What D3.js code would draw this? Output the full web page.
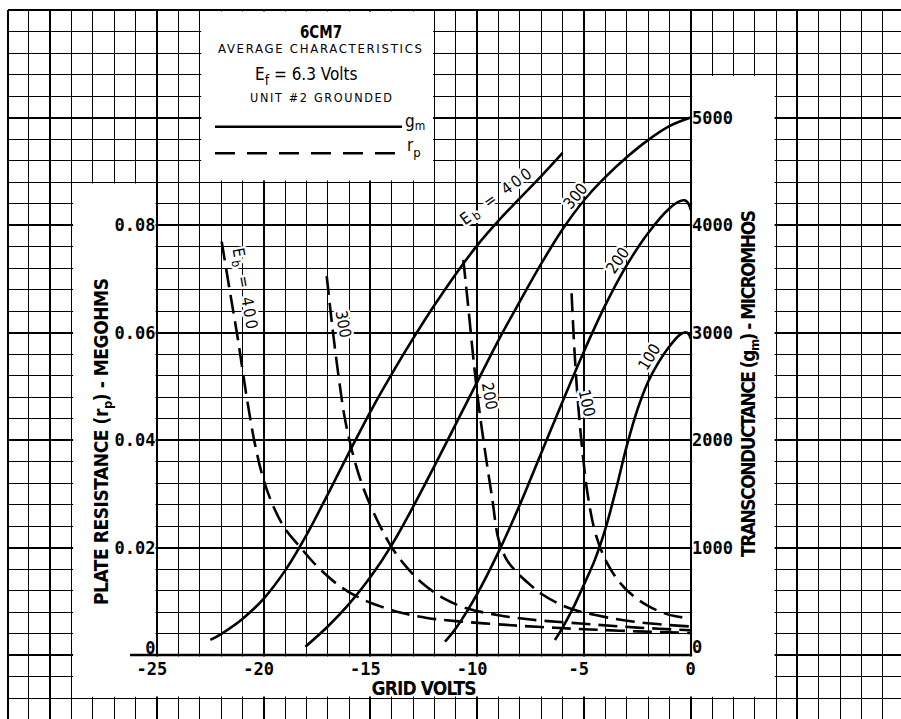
<!DOCTYPE html>
<html><head><meta charset="utf-8">
<script src="https://cdn.jsdelivr.net/npm/d3@7"></script>
<style>body{margin:0;background:#fff}svg{display:block}</style>
</head><body>
<svg id="c" width="901" height="719"></svg>
<script>
// ---------- data ----------
const xTicks = [-25, -20, -15, -10, -5, 0];
const xTickLabels = ["-25", "-20", "-15", "-10", "-5", "0"];
const rpTicks = [0, 0.02, 0.04, 0.06, 0.08];
const rpTickLabels = ["0", "0.02", "0.04", "0.06", "0.08"];
const gmTicks = [0, 1000, 2000, 3000, 4000, 5000];
const gmTickLabels = ["0", "1000", "2000", "3000", "4000", "5000"];

// transconductance (micromhos) vs grid volts, Eb = 400, 300, 200, 100
const gm400 = [[-22.5,140],[-22,195],[-21,335],[-20,525],[-19,785],[-18,1115],[-17,1495],[-16,1885],[-15,2265],[-14,2615],[-13,2945],[-12,3255],[-11,3545],[-10,3810],[-9,4040],[-8,4250],[-7,4455],[-6,4670]];
const gm300 = [[-18.05,77],[-17,265],[-16,475],[-15,725],[-14,1025],[-13,1380],[-12,1760],[-11,2150],[-10,2540],[-9,2930],[-8,3290],[-7,3640],[-6,3960],[-5,4230],[-4,4445],[-3,4630],[-2,4790],[-1,4920],[0,5000]];
const gm200 = [[-11.51,124],[-11,249],[-10,569],[-9,959],[-8,1399],[-7,1879],[-6,2359],[-5,2824],[-4,3254],[-3,3624],[-2,3924],[-1,4154],[-0.5,4222],[-0.25,4228],[-0.08,4190],[0,4140]];
const gm100 = [[-6.36,140],[-6,255],[-5.5,440],[-5,655],[-4.5,880],[-4,1170],[-3.5,1540],[-3,1940],[-2.5,2280],[-2,2540],[-1.5,2725],[-1,2870],[-0.5,2980],[-0.25,3003],[-0.1,2988],[0,2940]];

// plate resistance (megohms) vs grid volts
const rp400 = [[-21.97,0.0769],[-21.6,0.068],[-21.2,0.0585],[-20.8,0.048],[-20.4,0.039],[-20,0.0325],[-19.5,0.0272],[-19,0.0235],[-18.3,0.0201],[-17.5,0.0165],[-16.5,0.013],[-15.5,0.0106],[-14.5,0.009],[-13.5,0.0078],[-12.35,0.0069],[-11,0.0063],[-9,0.0057],[-7,0.0052],[-5,0.0048],[-2.5,0.0044],[0,0.0041]];
const rp300 = [[-17.05,0.0705],[-16.8,0.0615],[-16.5,0.052],[-16.2,0.044],[-15.8,0.037],[-15.4,0.0318],[-15,0.0278],[-14.5,0.0236],[-14,0.02],[-13.3,0.0163],[-12.5,0.0131],[-11.5,0.0104],[-10.5,0.0087],[-9,0.0074],[-7.5,0.0066],[-5,0.0058],[-2.5,0.0051],[0,0.0046]];
const rp200 = [[-10.65,0.0735],[-10.4,0.064],[-10.15,0.054],[-9.9,0.0455],[-9.6,0.037],[-9.3,0.0292],[-9,0.0215],[-8.6,0.0176],[-8.1,0.0152],[-7.5,0.013],[-7,0.0114],[-6,0.0092],[-5,0.0079],[-3.5,0.0067],[-2,0.0059],[0,0.0053]];
const rp100 = [[-5.58,0.0673],[-5.45,0.057],[-5.3,0.048],[-5.1,0.039],[-4.85,0.0305],[-4.55,0.024],[-4.25,0.0201],[-3.9,0.017],[-3.5,0.0144],[-3,0.0121],[-2.2,0.0096],[-1.4,0.008],[-0.7,0.0072],[0,0.0068]];

// ---------- scales ----------
const svg = d3.select("#c");
const x = d3.scaleLinear().domain([-25, 0]).range([157, 690.7]);
const yR = d3.scaleLinear().domain([0, 0.1]).range([655, 117.5]);
const yG = d3.scaleLinear().domain([0, 5000]).range([655, 117.5]);

// ---------- graph paper ----------
const grid = svg.append("g").attr("shape-rendering", "crispEdges");
const vLines = d3.range(-32, 10);
grid.selectAll("line.v").data(vLines).join("line")
  .attr("x1", d => x(d)).attr("x2", d => x(d))
  .attr("y1", yR(0.12)).attr("y2", 719)
  .attr("stroke", "#000")
  .attr("stroke-width", d => (d % 5 === 0 || d === -32) ? 2 : 1);
const hLines = d3.range(-3, 31);
grid.selectAll("line.h").data(hLines).join("line")
  .attr("y1", d => yR(d * 0.004)).attr("y2", d => yR(d * 0.004))
  .attr("x1", x(-32)).attr("x2", 901)
  .attr("stroke", "#000")
  .attr("stroke-width", d => (d % 5 === 0) ? 2 : 1);

// white panels (their edges stay as grid lines)
function panel(v0, v1, r0, r1) {
  const inset = 1.5;
  svg.append("rect")
    .attr("x", x(v0) + inset).attr("y", yR(r1) + inset)
    .attr("width", x(v1) - x(v0) - 2 * inset)
    .attr("height", yR(r0) - yR(r1) - 2 * inset)
    .attr("fill", "#fff");
}
panel(-29, -25, -0.008, 0.088);   // left label panel
panel(0, 4, -0.008, 0.108);       // right label panel
panel(-23, -12, 0.088, 0.12);     // title box
panel(-29, 4, -0.008, 0);         // bottom strip

// axis base line
svg.append("line").attr("x1", 130).attr("x2", x(0)).attr("y1", yR(0)).attr("y2", yR(0))
  .attr("stroke", "#000").attr("stroke-width", 2.5);

// ---------- curves ----------
const curves = svg.append("g").attr("fill", "none").attr("stroke", "#000");
const lineG = d3.line().x(d => x(d[0])).y(d => yG(d[1])).curve(d3.curveCatmullRom.alpha(0.5));
const lineR = d3.line().x(d => x(d[0])).y(d => yR(d[1])).curve(d3.curveCatmullRom.alpha(0.5));
[gm400, gm300, gm200, gm100].forEach(s => {
  curves.append("path").attr("d", lineG(s)).attr("stroke-width", 2.6);
});
[rp400, rp300, rp200, rp100].forEach(s => {
  curves.append("path").attr("d", lineR(s)).attr("stroke-width", 2.6)
    .attr("stroke-dasharray", "19,8");
});

// ---------- curve labels ----------
const lblFont = "'DejaVu Sans Condensed','DejaVu Sans',sans-serif";
function curveLabel(v, yval, ys, angle, parts, len) {
  const t = svg.append("text")
    .attr("transform", `translate(${x(v)},${ys(yval)}) rotate(${angle})`)
    .attr("text-anchor", "middle").attr("dominant-baseline", "central")
    .attr("font-family", lblFont).attr("font-size", 16)
    .attr("fill", "#000").attr("stroke", "#fff").attr("stroke-width", 5)
    .attr("paint-order", "stroke").attr("stroke-linejoin", "round");
  parts.forEach(p => {
    const ts = t.append("tspan").text(p.t);
    if (p.sub) ts.attr("font-size", 12).attr("dy", 5);
    if (p.up) ts.attr("dy", -5);
  });
  if (len) t.attr("textLength", len).attr("lengthAdjust", "spacing");
}
const ebParts = [{t: "E"}, {t: "b", sub: true}, {t: " = 400", up: true}];
curveLabel(-9.15, 4270, yG, -36, ebParts, 84);
curveLabel(-5.42, 4272, yG, -50, [{t: "300"}]);
curveLabel(-3.44, 3674, yG, -55, [{t: "200"}]);
curveLabel(-1.96, 2775, yG, -58, [{t: "100"}]);
curveLabel(-20.85, 0.0682, yR, 80, ebParts, 82);
curveLabel(-16.25, 0.0616, yR, 80, [{t: "300"}]);
curveLabel(-9.40, 0.0482, yR, 80, [{t: "200"}]);
curveLabel(-4.84, 0.0469, yR, 77, [{t: "100"}]);

// ---------- tick labels ----------
const tickFont = "'DejaVu Sans Mono',monospace";
const cw = 0.602 * 17;
svg.append("g").selectAll("text").data(xTicks).join("text")
  .attr("x", (d, i) => x(d) - (xTickLabels[i].startsWith("-") ? cw / 2 : 0))
  .attr("y", 675)
  .attr("text-anchor", "middle")
  .attr("font-family", tickFont).attr("font-weight", "bold").attr("font-size", 17)
  .text((d, i) => xTickLabels[i]);
svg.append("g").selectAll("text").data(rpTicks).join("text")
  .attr("x", 155.5)
  .attr("y", d => d === 0 ? yR(d) - 1 : yR(d) + 6)
  .attr("text-anchor", "end")
  .attr("font-family", tickFont).attr("font-weight", "bold").attr("font-size", 17)
  .text((d, i) => rpTickLabels[i]);
svg.append("g").selectAll("text").data(gmTicks).join("text")
  .attr("x", 692)
  .attr("y", d => d === 0 ? yG(d) - 2 : yG(d) + 6)
  .attr("text-anchor", "start")
  .attr("font-family", tickFont).attr("font-weight", "bold").attr("font-size", 17)
  .text((d, i) => gmTickLabels[i]);

// ---------- axis titles ----------
const titleFont = "'Liberation Sans Narrow','DejaVu Sans Condensed',sans-serif";
svg.append("text").attr("x", 424).attr("y", 695).attr("text-anchor", "middle")
  .attr("font-family", titleFont).attr("font-weight", "bold").attr("font-size", 19)
  .attr("textLength", 105).attr("lengthAdjust", "spacing").text("GRID VOLTS");

function vTitle(cx, cy, len, parts) {
  const t = svg.append("text")
    .attr("transform", `translate(${cx},${cy}) rotate(-90)`)
    .attr("text-anchor", "middle")
    .attr("font-family", titleFont).attr("font-weight", "bold").attr("font-size", 19)
    .attr("textLength", len).attr("lengthAdjust", "spacing");
  parts.forEach(p => {
    const ts = t.append("tspan").text(p.t);
    if (p.sub) ts.attr("font-size", 13).attr("dy", 4);
    if (p.up) ts.attr("dy", -4);
  });
}
vTitle(108, 441.5, 327, [{t: "PLATE RESISTANCE (r"}, {t: "p", sub: true}, {t: ") - MEGOHMS", up: true}]);
vTitle(755, 383.5, 347, [{t: "TRANSCONDUCTANCE (g"}, {t: "m", sub: true}, {t: ") - MICROMHOS", up: true}]);

// ---------- title box ----------
const boxFont = "'DejaVu Sans Condensed','DejaVu Sans',sans-serif";
svg.append("text").attr("x", 321).attr("y", 38.3).attr("text-anchor", "middle")
  .attr("font-family", titleFont).attr("font-weight", "bold").attr("font-size", 18)
  .attr("textLength", 42).attr("lengthAdjust", "spacingAndGlyphs").text("6CM7");
svg.append("text").attr("x", 320).attr("y", 53.3).attr("text-anchor", "middle")
  .attr("font-family", boxFont).attr("font-size", 13)
  .attr("textLength", 204).attr("lengthAdjust", "spacing").text("AVERAGE CHARACTERISTICS");
const ef = svg.append("text").attr("x", 255).attr("y", 80)
  .attr("font-family", boxFont).attr("font-size", 17);
ef.append("tspan").text("E");
ef.append("tspan").text("f").attr("font-size", 14).attr("dy", 5);
ef.append("tspan").text(" = 6.3 Volts").attr("dy", -5);
svg.append("text").attr("x", 321).attr("y", 101.7).attr("text-anchor", "middle")
  .attr("font-family", boxFont).attr("font-size", 12.5)
  .attr("textLength", 142).attr("lengthAdjust", "spacing").text("UNIT #2 GROUNDED");

// legend
svg.append("line").attr("x1", 215).attr("x2", 402).attr("y1", 126.7).attr("y2", 126.7)
  .attr("stroke", "#000").attr("stroke-width", 2.4);
svg.append("line").attr("x1", 215).attr("x2", 402).attr("y1", 153.3).attr("y2", 153.3)
  .attr("stroke", "#000").attr("stroke-width", 2.4).attr("stroke-dasharray", "20,12");
const lg = svg.append("text").attr("x", 405).attr("y", 126.7)
  .attr("font-family", boxFont).attr("font-size", 17);
lg.append("tspan").text("g");
lg.append("tspan").text("m").attr("font-size", 12).attr("dy", 3);
const lr = svg.append("text").attr("x", 407).attr("y", 150.5)
  .attr("font-family", boxFont).attr("font-size", 17);
lr.append("tspan").text("r");
lr.append("tspan").text("p").attr("font-size", 13).attr("dy", 6);
</script>
</body></html>
